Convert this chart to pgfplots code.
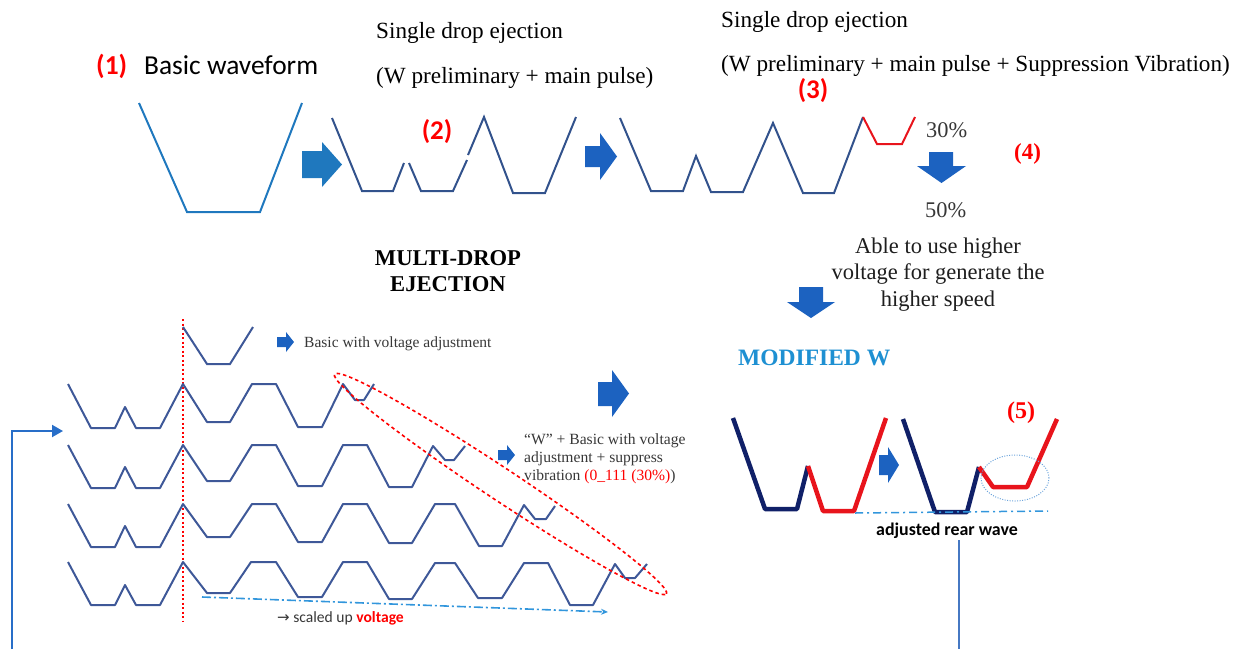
\documentclass[border=0pt]{standalone}
\usepackage{pgfplots}
\pgfplotsset{compat=1.18}
\usetikzlibrary{arrows.meta}
\usepackage{fontspec}
\setmainfont{Liberation Serif}
\newfontfamily\carlito{Carlito}
\newfontfamily\dejavu{DejaVu Sans}
\newcommand{\fs}[1]{\fontsize{#1}{#1}\selectfont}
\definecolor{cBasic}{RGB}{31,120,190}
\definecolor{cNavy}{RGB}{50,82,140}
\definecolor{cRow}{RGB}{62,88,152}
\definecolor{cArrow}{RGB}{28,98,192}
\definecolor{cDeep}{RGB}{16,32,104}
\definecolor{cRed}{RGB}{232,20,28}
\definecolor{cLab}{RGB}{255,0,0}
\definecolor{cLight}{RGB}{50,150,220}
\definecolor{cModW}{RGB}{30,144,210}
\definecolor{cTxt}{RGB}{30,30,30}
\definecolor{cGray}{RGB}{55,55,55}
\begin{document}
\begin{tikzpicture}
\begin{axis}[x=1pt, y=1pt, xmin=0, xmax=1242, ymin=0, ymax=649, y dir=reverse,
  hide axis, clip=false, scale only axis]
% ---------- top row waveforms ----------
\addplot[cBasic, line width=2pt] coordinates {(139,103)(187,212)(260,212)(302,103)};
\addplot[cNavy, line width=2pt] coordinates {(332,118)(362,191)(393,191)(404,163)};
\addplot[cNavy, line width=2pt] coordinates {(409,163)(421,191)(453,191)(467,160)};
\addplot[cNavy, line width=2pt] coordinates {(468,155)(484,117)(513,193)(545,193)(576,117)};
\addplot[cNavy, line width=2pt] coordinates {(620,118)(651,191)(683,191)(696,156)(711,192)(743,192)(773,123)(803,193)(834,193)(863,117)};
\addplot[cRed, line width=2pt] coordinates {(863,117)(877,144)(902,144)(915,117)};
% ---------- block arrows ----------
\addplot[fill=cBasic, draw=none] coordinates {(302,151)(322,151)(322,142)(342,164.5)(322,187)(322,178)(302,178)(302,151)};
\addplot[fill=cArrow, draw=none] coordinates {(585,146)(600,146)(600,133)(617,156.5)(600,180)(600,167)(585,167)(585,146)};
\addplot[fill=cArrow, draw=none] coordinates {(929,152)(953,152)(953,166)(966,166)(941.5,183)(917,166)(929,166)(929,152)};
\addplot[fill=cArrow, draw=none] coordinates {(799,287)(823,287)(823,302)(835,302)(811,318)(787,302)(799,302)(799,287)};
\addplot[fill=cArrow, draw=none] coordinates {(879,455)(888,455)(888,447)(899,465)(888,483)(888,475)(879,475)(879,455)};
\addplot[fill=cArrow, draw=none] coordinates {(598,382)(612,382)(612,370)(629,393.5)(612,417)(612,406)(598,406)(598,382)};
\addplot[fill=cArrow, draw=none] coordinates {(277,337)(286,337)(286,332)(294,342)(286,352)(286,347)(277,347)(277,337)};
\addplot[fill=cArrow, draw=none] coordinates {(498,450)(507,450)(507,445)(515,455)(507,465)(507,460)(498,460)(498,450)};
% ---------- multi-drop rows ----------
\addplot[cLab, line width=2pt, dash pattern=on 2pt off 2.5pt] coordinates {(183,319)(183,622)};
\addplot[cRow, line width=2pt] coordinates {(183,327)(207,364)(230,364)(253,327)};
\addplot[cRow, line width=2pt, line join=round] coordinates {(68,384)(91,428)(115,428)(125,407)(136,428)(160,428)(183,384)(207,422)(230,422)(252,384)(276,384)(298,427)(322,427)(343,384)(355,400)(364,400)(374,384)};
\addplot[cRow, line width=2pt, line join=round] coordinates {(68,445)(91,488)(115,488)(125,467)(136,488)(160,488)(183,445)(207,481)(230,481)(252,445)(276,445)(298,486)(322,486)(343,445)(367,445)(389,487)(412,487)(433,446)(445,460)(454,460)(465,446)};
\addplot[cRow, line width=2pt, line join=round] coordinates {(68,504)(91,547)(115,547)(125,526)(136,547)(160,547)(183,504)(207,537)(230,537)(252,504)(276,504)(298,542)(322,542)(343,504)(367,504)(389,543)(412,543)(435,504)(455,504)(479,546)(502,546)(524,505)(535,519)(546,519)(555,506)};
\addplot[cRow, line width=2pt, line join=round] coordinates {(68,562)(91,605)(115,605)(125,585)(136,605)(160,605)(183,562)(207,593)(230,593)(251,562)(276,562)(298,597)(322,597)(343,562)(367,562)(389,599)(412,599)(435,563)(455,563)(478,598)(502,598)(524,563)(548,563)(570,605)(593,605)(615,564)(625,578)(635,578)(647,564)};
\addplot[cLight, line width=1.6pt, dash pattern=on 9pt off 3pt on 2pt off 3pt, -{Stealth[length=7pt,width=6pt]}] coordinates {(202,597)(608,612)};
\addplot[color={rgb,255:red,40;green,110;blue,200}, line width=2pt, -{Triangle[length=11pt,width=12pt]}] coordinates {(12,649)(12,431)(63,431)};
\draw[cLab, line width=1.6pt, dash pattern=on 3.5pt off 3pt, rotate around={-33.5:(axis cs:500.5,484)}] (axis cs:500.5,484) ellipse [x radius=199pt, y radius=16pt];
% ---------- modified W ----------
\addplot[cDeep, line width=4.5pt, line join=round] coordinates {(733,418)(765,509)(797,509)(808,466)};
\addplot[cRed, line width=4.5pt, line join=round] coordinates {(808,466)(823,511)(854,511)(886,418)};
\addplot[cDeep, line width=4.5pt, line join=round] coordinates {(903,419)(935,512)(967,512)(979,467)};
\addplot[cRed, line width=4.5pt, line join=round] coordinates {(979,467)(993,487)(1027,487)(1057,419)};
\addplot[cLight, line width=1.5pt, dash pattern=on 8pt off 4pt on 2pt off 4pt] coordinates {(855,513)(1048,511)};
\draw[color={rgb,255:red,110;green,165;blue,220}, line width=1pt, dash pattern=on 1pt off 1.5pt] (axis cs:1015,478) ellipse [x radius=34pt, y radius=23pt];
\addplot[color={rgb,255:red,70;green,120;blue,195}, line width=1.5pt] coordinates {(959,540)(959,649)};
% ---------- texts ----------
\node[anchor=base west, inner sep=0, text=cLab, font=\carlito\bfseries\fs{27.4}] at (axis cs:96,74) {(1)};
\node[anchor=base west, inner sep=0, text=black, font=\carlito\fs{27.4}] at (axis cs:144,74) {Basic waveform};
\node[anchor=center, inner sep=0, text=cLab, font=\carlito\bfseries\fs{27}] at (axis cs:437,132) {(2)};
\node[anchor=center, inner sep=0, text=cLab, font=\carlito\bfseries\fs{27}] at (axis cs:813,91) {(3)};
\node[anchor=center, inner sep=0, text=cLab, font=\bfseries\fs{23}] at (axis cs:1027.5,154) {(4)};
\node[anchor=center, inner sep=0, text=cLab, font=\bfseries\fs{24}] at (axis cs:1021,413) {(5)};
\node[anchor=base west, inner sep=0, text=black, font=\fs{23.2}] at (axis cs:376,38) {Single drop ejection};
\node[anchor=base west, inner sep=0, text=black, font=\fs{23.2}] at (axis cs:376,83) {(W preliminary + main pulse)};
\node[anchor=base west, inner sep=0, text=black, font=\fs{23.2}] at (axis cs:721,27) {Single drop ejection};
\node[anchor=base west, inner sep=0, text=black, font=\fs{23.2}] at (axis cs:721,71) {(W preliminary + main pulse + Suppression Vibration)};
\node[anchor=base west, inner sep=0, text=cGray, font=\fs{22.4}] at (axis cs:926,137) {30\%};
\node[anchor=base west, inner sep=0, text=cGray, font=\fs{22.4}] at (axis cs:925,217) {50\%};
\node[anchor=base, inner sep=0, text=cTxt, font=\fs{22.5}] at (axis cs:938,253) {Able to use higher};
\node[anchor=base, inner sep=0, text=cTxt, font=\fs{22.5}] at (axis cs:938,279) {voltage for generate the};
\node[anchor=base, inner sep=0, text=cTxt, font=\fs{22.5}] at (axis cs:938,306) {higher speed};
\node[anchor=base west, inner sep=0, text=cModW, font=\bfseries\fs{23.5}] at (axis cs:738,365) {MODIFIED W};
\node[anchor=base west, inner sep=0, text=black, font=\carlito\bfseries\fs{17.9}] at (axis cs:876,535) {adjusted rear wave};
\node[anchor=base, inner sep=0, text=black, font=\bfseries\fs{22.6}] at (axis cs:448,265) {MULTI-DROP};
\node[anchor=base, inner sep=0, text=black, font=\bfseries\fs{22.6}] at (axis cs:448,291) {EJECTION};
\node[anchor=base west, inner sep=0, text=cGray, font=\fs{15.5}] at (axis cs:304,347) {Basic with voltage adjustment};
\node[anchor=base west, inner sep=0, text=cGray, font=\fs{15.6}] at (axis cs:524,444) {``W'' + Basic with voltage};
\node[anchor=base west, inner sep=0, text=cGray, font=\fs{15.6}] at (axis cs:524,462) {adjustment + suppress};
\node[anchor=base west, inner sep=0, text=cGray, font=\fs{15.6}] at (axis cs:524,480) {vibration \textcolor{cLab}{(0\_111 (30\%)})};
\node[anchor=base west, inner sep=0, text=cGray, font=\carlito\fs{15.6}] at (axis cs:277,622) {{\dejavu\fs{15}→} scaled up \textcolor{cLab}{\bfseries voltage}};
\end{axis}
\pgfresetboundingbox
\path (current axis.south west) rectangle (current axis.north east);
\end{tikzpicture}
\end{document}
